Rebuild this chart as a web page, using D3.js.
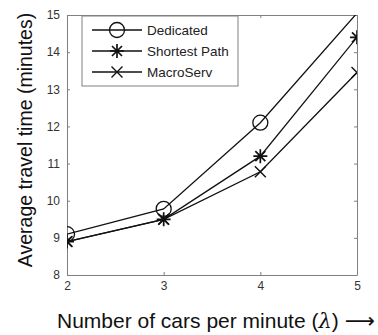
<!DOCTYPE html>
<html>
<head>
<meta charset="utf-8">
<script src="https://cdn.jsdelivr.net/npm/d3@7.9.0/dist/d3.min.js"></script>
<style>
  body { margin: 0; background: #fff; }
  svg { display: block; font-family: Arial, "Liberation Sans", sans-serif; }
</style>
</head>
<body>
<svg id="chart" width="378" height="335"></svg>
<script>
const lambdas = [2, 3, 4, 5];
const dedicated = [9.1, 9.78, 12.1, 15.05];
const shortestPath = [8.9, 9.5, 11.2, 14.4];
const macroServ = [8.9, 9.5, 10.78, 13.45];
const yTicks = [8, 9, 10, 11, 12, 13, 14, 15];

const series = [
  { name: 'Dedicated', values: dedicated, marker: 'circle' },
  { name: 'Shortest Path', values: shortestPath, marker: 'star' },
  { name: 'MacroServ', values: macroServ, marker: 'cross' }
];

const margin = { left: 67, right: 21, top: 15, bottom: 60 };
const width = 378, height = 335;

const svg = d3.select('#chart');

let x = d3.scaleLinear().domain([2, 5]).range([margin.left, width - margin.right]);
let y = d3.scaleLinear().domain([8, 15]).range([height - margin.bottom, margin.top]);

const axisColor = '#808080';

svg.append('clipPath').attr('id', 'plotclip')
  .append('rect')
  .attr('x', x(2)).attr('y', y(15))
  .attr('width', x(5) - x(2)).attr('height', y(8) - y(15));

// axes (box with inward ticks on all four sides)
const xAxis = svg.append('g')
  .attr('transform', `translate(0,${y(8)})`)
  .call(d3.axisBottom(x).tickValues(lambdas).tickFormat(d3.format('d')).tickSizeInner(-3).tickSizeOuter(0).tickPadding(6));
const xAxisTop = svg.append('g')
  .attr('transform', `translate(0,${y(15)})`)
  .call(d3.axisTop(x).tickValues(lambdas).tickFormat('').tickSizeInner(-3).tickSizeOuter(0));
const yAxis = svg.append('g')
  .attr('transform', `translate(${x(2)},0)`)
  .call(d3.axisLeft(y).tickValues(yTicks).tickFormat(d3.format('d')).tickSizeInner(-3).tickSizeOuter(0).tickPadding(7));
const yAxisRight = svg.append('g')
  .attr('transform', `translate(${x(5)},0)`)
  .call(d3.axisRight(y).tickValues(yTicks).tickFormat('').tickSizeInner(-3).tickSizeOuter(0));

[xAxis, xAxisTop, yAxis, yAxisRight].forEach(g => {
  g.select('.domain').attr('stroke', axisColor).attr('stroke-width', 1);
  g.selectAll('.tick line').attr('stroke', axisColor);
  g.selectAll('.tick text').attr('fill', '#333').attr('font-size', 12)
    .attr('font-family', 'Arial, "Liberation Sans", sans-serif');
});

// lines
const line = d3.line().x((d, i) => x(lambdas[i])).y(d => y(d));
const plot = svg.append('g').attr('clip-path', 'url(#plotclip)');

function drawMarker(g, type, cx, cy) {
  if (type === 'circle') {
    g.append('circle').attr('cx', cx).attr('cy', cy).attr('r', 7.5)
      .attr('fill', 'none').attr('stroke', '#111').attr('stroke-width', 1.3);
  } else if (type === 'cross') {
    const s = 5.5;
    g.append('path')
      .attr('d', `M${cx - s},${cy - s}L${cx + s},${cy + s}M${cx - s},${cy + s}L${cx + s},${cy - s}`)
      .attr('stroke', '#111').attr('stroke-width', 1.4);
  } else {
    const s = 7, d = 5;
    g.append('path')
      .attr('d', `M${cx - s},${cy}L${cx + s},${cy}M${cx},${cy - s}L${cx},${cy + s}` +
        `M${cx - d},${cy - d}L${cx + d},${cy + d}M${cx - d},${cy + d}L${cx + d},${cy - d}`)
      .attr('stroke', '#111').attr('stroke-width', 1.7);
  }
}

series.forEach(s => {
  plot.append('path').datum(s.values)
    .attr('d', line)
    .attr('fill', 'none').attr('stroke', '#111').attr('stroke-width', 1.3);
  s.values.forEach((v, i) => {
    if (v <= 15 && v >= 8) drawMarker(plot, s.marker, x(lambdas[i]), y(v));
  });
});

// legend
const lg = svg.append('g').attr('transform', 'translate(82,16)');
lg.append('rect').attr('width', 156).attr('height', 70)
  .attr('fill', '#fff').attr('stroke', axisColor).attr('stroke-width', 1);
series.forEach((s, i) => {
  const yy = 14 + i * 21;
  lg.append('line').attr('x1', 10).attr('x2', 60).attr('y1', yy).attr('y2', yy)
    .attr('stroke', '#111').attr('stroke-width', 1.3);
  drawMarker(lg, s.marker, 35, yy);
  lg.append('text').attr('x', 65).attr('y', yy).attr('dy', '0.35em')
    .attr('font-size', 13.5).attr('fill', '#222').text(s.name);
});

// axis labels
svg.append('text')
  .attr('transform', `translate(32,140) rotate(-90)`)
  .attr('text-anchor', 'middle')
  .attr('font-size', 19.5).attr('fill', '#111')
  .text('Average travel time (minutes)');

const xl = svg.append('text')
  .attr('x', 57).attr('y', 328)
  .attr('font-size', 21).attr('fill', '#111');
xl.append('tspan').text('Number of cars per minute (');
xl.append('tspan').attr('font-style', 'italic').attr('font-family', '"DejaVu Serif", serif').text('λ');
xl.append('tspan').text(')');
xl.append('tspan').attr('dx', 6).attr('font-family', '"DejaVu Sans", sans-serif').text('⟶');
</script>
</body>
</html>
